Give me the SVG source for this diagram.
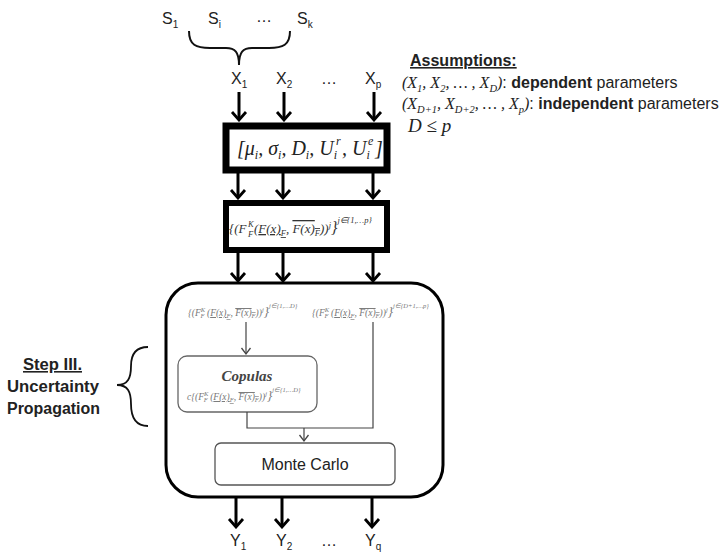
<svg xmlns="http://www.w3.org/2000/svg" width="725" height="555" viewBox="0 0 725 555">
<defs>
<marker id="ah" viewBox="-10 -9 12 18" refX="0" refY="0" markerWidth="12" markerHeight="18" markerUnits="userSpaceOnUse" orient="auto">
<path d="M-8,-7 L0,0 L-8,7" fill="none" stroke="#000" stroke-width="2.8" stroke-linejoin="miter"/>
</marker>
<marker id="ahs" viewBox="-8 -6 10 12" refX="0" refY="0" markerWidth="10" markerHeight="12" markerUnits="userSpaceOnUse" orient="auto">
<path d="M-6,-4.5 L0,0 L-6,4.5" fill="none" stroke="#444" stroke-width="1.3"/>
</marker>
</defs>
<style>
.lbl{font-family:"Liberation Sans",Arial,sans-serif;font-size:16px;fill:#222}
.sub{font-size:10px}
.math{font-family:"Liberation Serif","Times New Roman",serif;font-style:italic;fill:#222}
.thick{stroke:#000;stroke-width:3;fill:none;marker-end:url(#ah)}
.thin{stroke:#444;stroke-width:1.2;fill:none}
.f{font-family:"Liberation Serif","Times New Roman",serif;font-style:italic;fill:#777}
.bold{font-weight:bold}
</style>
<rect width="725" height="555" fill="#fff"/>

<g id="sources">
<text class="lbl" x="162" y="24">S<tspan class="sub" dy="4">1</tspan></text>
<text class="lbl" x="208" y="24">S<tspan class="sub" dy="4">i</tspan></text>
<text class="lbl" x="256" y="22">…</text>
<text class="lbl" x="297" y="24">S<tspan class="sub" dy="4">k</tspan></text>
<path d="M189,31 C189,45 196,48 210,48 L226,48 C235,48 239,52 239,65 C239,52 243,48 252,48 L269,48 C283,48 290,45 290,31" fill="none" stroke="#111" stroke-width="2"/>
</g>

<g id="inputs">
<text class="lbl" x="231" y="84">X<tspan class="sub" dy="4">1</tspan></text>
<text class="lbl" x="276" y="84">X<tspan class="sub" dy="4">2</tspan></text>
<text class="lbl" x="321" y="84">…</text>
<text class="lbl" x="365" y="84">X<tspan class="sub" dy="4">p</tspan></text>
</g>

<g id="assumptions">
<text class="lbl bold" x="410" y="66" text-decoration="underline" font-size="16.5">Assumptions:</text>
<text x="402" y="88" font-size="16"><tspan class="math">(X<tspan font-size="10.5" dy="4">1</tspan><tspan dy="-4">, X</tspan><tspan font-size="10.5" dy="4">2</tspan><tspan dy="-4">, … , X</tspan><tspan font-size="10.5" dy="4">D</tspan><tspan dy="-4">)</tspan></tspan><tspan class="lbl" font-size="15">: </tspan><tspan class="lbl bold" font-size="15" fill="#666">dependent</tspan><tspan class="lbl" font-size="15"> parameters</tspan></text>
<text x="402" y="109" font-size="16"><tspan class="math">(X<tspan font-size="10.5" dy="4">D+1</tspan><tspan dy="-4">, X</tspan><tspan font-size="10.5" dy="4">D+2</tspan><tspan dy="-4">, … , X</tspan><tspan font-size="10.5" dy="4">p</tspan><tspan dy="-4">)</tspan></tspan><tspan class="lbl" font-size="15">: </tspan><tspan class="lbl bold" font-size="15" fill="#666">independent</tspan><tspan class="lbl" font-size="15"> parameters</tspan></text>
<text class="math" x="408" y="132" font-size="19">D ≤ p</text>
</g>

<g id="box1">
<rect x="226" y="126" width="161" height="44" fill="#fff" stroke="#000" stroke-width="7"/>
<text class="math" x="237" y="155" font-size="20">[μ<tspan font-size="12" dy="4">i</tspan><tspan dy="-4">, σ</tspan><tspan font-size="12" dy="4">i</tspan><tspan dy="-4">, D</tspan><tspan font-size="12" dy="4">i</tspan><tspan dy="-4">, U</tspan><tspan font-size="12" dy="4">i</tspan></text>
<text class="math" x="336" y="145" font-size="12">r</text>
<text class="math" x="342" y="155" font-size="20">, U<tspan font-size="12" dy="4">i</tspan></text>
<text class="math" x="368" y="145" font-size="12">e</text>
<text class="math" x="375" y="155" font-size="20">]</text>
</g>

<g id="box2">
<rect x="226" y="203" width="161" height="47" fill="#fff" stroke="#000" stroke-width="6"/>
<text class="f" x="229" y="233" font-size="13" style="fill:#333">{(F</text>
<text class="f" x="248" y="227" font-size="8.5" style="fill:#333">K</text>
<text class="f" x="248" y="237" font-size="8.5" style="fill:#333">F</text>
<text class="f" x="254" y="233" font-size="13" style="fill:#333"> (<tspan text-decoration="underline">F(x)<tspan font-size="8.5" dy="3">F</tspan></tspan><tspan dy="-3">, </tspan><tspan text-decoration="overline">F(x)<tspan font-size="8.5" dy="3">F</tspan></tspan><tspan dy="-3">))</tspan><tspan font-size="8.5" dy="-5">j</tspan><tspan font-size="16" dy="5">}</tspan><tspan font-size="8.5" dy="-10">j∈{1,…p}</tspan></text>
</g>

<g id="propagation">
<rect x="166" y="283" width="277" height="214" rx="32" ry="32" fill="#fff" stroke="#000" stroke-width="3"/>
<text class="f" x="188" y="316" font-size="9.5">{(F<tspan font-size="6.5" dy="-4">K</tspan><tspan font-size="6.5" dx="-4.5" dy="6">F</tspan><tspan dy="-2"> (</tspan><tspan text-decoration="underline">F(x)<tspan font-size="6.5" dy="2">F</tspan></tspan><tspan dy="-2">, </tspan><tspan text-decoration="overline">F(x)<tspan font-size="6.5" dy="2">F</tspan></tspan><tspan dy="-2">))</tspan><tspan font-size="6.5" dy="-4">j</tspan><tspan font-size="13" dy="4">}</tspan><tspan font-size="6.5" dy="-8">j∈{1,…D}</tspan></text>
<text class="f" x="312" y="316" font-size="9.5">{(F<tspan font-size="6.5" dy="-4">K</tspan><tspan font-size="6.5" dx="-4.5" dy="6">F</tspan><tspan dy="-2"> (</tspan><tspan text-decoration="underline">F(x)<tspan font-size="6.5" dy="2">F</tspan></tspan><tspan dy="-2">, </tspan><tspan text-decoration="overline">F(x)<tspan font-size="6.5" dy="2">F</tspan></tspan><tspan dy="-2">))</tspan><tspan font-size="6.5" dy="-4">j</tspan><tspan font-size="13" dy="4">}</tspan><tspan font-size="6.5" dy="-8">j∈{D+1,…p}</tspan></text>
</g>

<g id="copulas">
<rect x="178" y="356" width="139" height="56" rx="9" ry="9" fill="#fff" stroke="#666" stroke-width="1.3"/>
<text x="247" y="381" font-family="Liberation Serif,serif" font-style="italic" font-weight="bold" font-size="15" fill="#444" text-anchor="middle">Copulas</text>
<text class="f" x="187" y="400" font-size="9.5">c{(F<tspan font-size="6.5" dy="-4">K</tspan><tspan font-size="6.5" dx="-4.5" dy="6">F</tspan><tspan dy="-2"> (</tspan><tspan text-decoration="underline">F(x)<tspan font-size="6.5" dy="2">F</tspan></tspan><tspan dy="-2">, </tspan><tspan text-decoration="overline">F(x)<tspan font-size="6.5" dy="2">F</tspan></tspan><tspan dy="-2">))</tspan><tspan font-size="6.5" dy="-4">j</tspan><tspan font-size="13" dy="4">}</tspan><tspan font-size="6.5" dy="-8">j∈{1,…D}</tspan></text>
</g>

<g id="montecarlo">
<rect x="215" y="443" width="180" height="42" rx="6" ry="6" fill="#fff" stroke="#555" stroke-width="1.3"/>
<text class="lbl" x="305" y="470" text-anchor="middle" fill="#333">Monte Carlo</text>
</g>

<g id="step3">
<text class="lbl bold" x="23" y="370" font-size="15" textLength="59" lengthAdjust="spacingAndGlyphs" text-decoration="underline">Step III.</text>
<text class="lbl bold" x="7" y="392" font-size="15" textLength="92" lengthAdjust="spacingAndGlyphs">Uncertainty</text>
<text class="lbl bold" x="7" y="414" font-size="15" textLength="93" lengthAdjust="spacingAndGlyphs">Propagation</text>
<path d="M148,347 C136,347 131,354 131,366 C131,378 128,385 117,385 C128,385 131,392 131,404 C131,418 136,426 148,426" fill="none" stroke="#111" stroke-width="1.8"/>
</g>

<g id="outputs">
<text class="lbl" x="230" y="546">Y<tspan class="sub" dy="4">1</tspan></text>
<text class="lbl" x="276" y="546">Y<tspan class="sub" dy="4">2</tspan></text>
<text class="lbl" x="321" y="546">…</text>
<text class="lbl" x="365" y="546">Y<tspan class="sub" dy="4">q</tspan></text>
</g>

<g id="connectors">
<line class="thick" x1="239" y1="92" x2="239" y2="120"/>
<line class="thick" x1="284" y1="92" x2="284" y2="120"/>
<line class="thick" x1="374" y1="92" x2="374" y2="120"/>
<line class="thick" x1="238" y1="173" x2="238" y2="198"/>
<line class="thick" x1="283" y1="173" x2="283" y2="198"/>
<line class="thick" x1="373" y1="173" x2="373" y2="198"/>
<line class="thick" x1="238" y1="253" x2="238" y2="281"/>
<line class="thick" x1="283" y1="253" x2="283" y2="281"/>
<line class="thick" x1="373" y1="253" x2="373" y2="281"/>
<line class="thin" x1="246" y1="322" x2="246" y2="354" marker-end="url(#ahs)"/>
<polyline class="thin" points="373,322 373,428 247,428 247,412"/>
<line class="thin" x1="304" y1="428" x2="304" y2="441" marker-end="url(#ahs)"/>
<line class="thick" x1="236" y1="498" x2="236" y2="527"/>
<line class="thick" x1="282" y1="498" x2="282" y2="527"/>
<line class="thick" x1="372" y1="498" x2="372" y2="527"/>
</g>
</svg>
